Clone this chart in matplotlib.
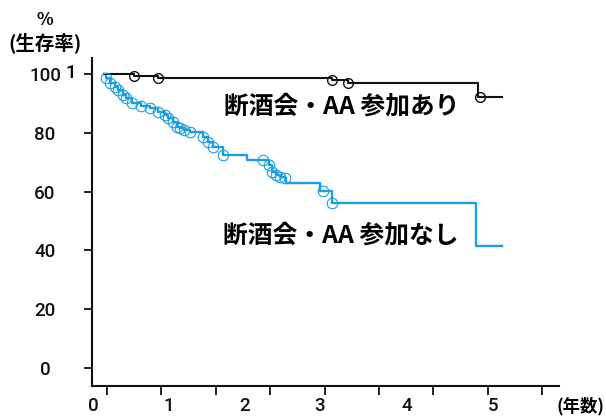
import numpy as np
import matplotlib
matplotlib.use("Agg")
import matplotlib.pyplot as plt

plt.rcParams['font.family'] = ['Noto Sans CJK JP', 'DejaVu Sans']

# Survival curve: with AA / abstinence society participation (black)
black_t = [0.0, 0.386, 0.694, 2.93, 3.14, 4.81, 5.12]
black_s = [100.0, 99.4, 98.6, 97.8, 97.0, 92.3, 92.3]
black_marks = [0.386, 0.694, 2.93, 3.14, 4.83]

# Survival curve: without participation (blue)
blue_t = [0.0, 0.026, 0.077, 0.141, 0.180, 0.244, 0.283, 0.360, 0.476, 0.591,
          0.694, 0.784, 0.823, 0.887, 0.938, 0.977, 1.028, 1.105, 1.272, 1.337,
          1.401, 1.530, 1.838, 2.121, 2.159, 2.211, 2.262, 2.326, 2.339, 2.776,
          2.931, 4.781, 5.116]
blue_s = [100.0, 98.6, 96.9, 95.6, 94.6, 92.9, 91.8, 90.1, 89.1, 88.4,
          87.2, 86.1, 85.0, 83.8, 82.1, 81.5, 81.0, 80.3, 78.6, 76.9,
          75.2, 72.4, 70.7, 69.0, 66.7, 65.6, 64.8, 64.6, 62.9, 60.2,
          56.0, 41.6, 41.6]
blue_marks = [0.026, 0.077, 0.141, 0.180, 0.244, 0.283, 0.360, 0.476, 0.591,
              0.694, 0.784, 0.823, 0.887, 0.938, 0.977, 1.028, 1.105, 1.272,
              1.337, 1.401, 1.530, 2.044, 2.121, 2.159, 2.211, 2.262, 2.326,
              2.815, 2.931]

y_ticks = [0, 20, 40, 60, 80, 100]
x_labels = ['0', '1', '2', '3', '4', '5']

BLUE = '#1a9fe0'
BLACK = '#111111'
NUM_FONT = ['Roboto', 'DejaVu Sans']


def step_value(times, surv, t):
    idx = np.searchsorted(times, t, side='right') - 1
    return np.asarray(surv)[idx]


W, H = 606, 416
fig = plt.figure(figsize=(W / 100, H / 100), dpi=100)
L, R, T, B = 92, 559, 58, 386
ax = fig.add_axes([L / W, (H - B) / H, (R - L) / W, (B - T) / H])

px_per_year = 77.8
x0_px = 104
ax.set_xlim((L - x0_px) / px_per_year, (R - x0_px) / px_per_year)
ax.set_ylim(-6.12, 105.44)

ax.step(blue_t, blue_s, where='post', color=BLUE, lw=1.7, zorder=3)
ax.plot(blue_marks, step_value(blue_t, blue_s, blue_marks), 'o', ms=7.6,
        mfc='none', mec=BLUE, mew=0.8, zorder=4)

ax.step(black_t, black_s, where='post', color=BLACK, lw=1.5, zorder=3)
ax.plot(black_marks, step_value(black_t, black_s, black_marks), 'o', ms=7.0,
        mfc='none', mec=BLACK, mew=1.0, zorder=4)

for side in ['top', 'right']:
    ax.spines[side].set_visible(False)
for side in ['left', 'bottom']:
    ax.spines[side].set_linewidth(1.5)
    ax.spines[side].set_color(BLACK)

# y axis
ax.set_yticks(y_ticks)
ax.set_yticklabels([str(v) for v in y_ticks], ha='center', fontsize=13.5,
                   family=NUM_FONT, weight='medium')
ax.tick_params(axis='y', direction='out', length=5.8, width=1.3, pad=28,
               colors=BLACK)

# x axis: tick marks and number labels sit at different places
tick_px = [107 + 54.4 * k for k in range(9)]
label_px = [93, 169, 244.5, 319.4, 406.4, 493.5]
ax.set_xticks([(p - x0_px) / px_per_year for p in tick_px], minor=True)
ax.set_xticks([(p - x0_px) / px_per_year for p in label_px])
ax.set_xticklabels(x_labels, fontsize=13.5, family=NUM_FONT, weight='medium')
ax.tick_params(axis='x', which='minor', direction='out', length=6.3,
               width=1.3, colors=BLACK)
ax.tick_params(axis='x', which='major', length=0, pad=8, colors=BLACK)

# annotations
def fig_text(x, y, s, **kw):
    fig.text(x / W, 1 - y / H, s, **kw)

fig_text(45, 20, '%', ha='center', va='center', fontsize=12.5, weight='bold')
fig_text(45, 43, '(生存率)', ha='center', va='center', fontsize=14,
         weight='bold')
fig_text(71, 73, '1', ha='center', va='center', fontsize=13.5,
         family=NUM_FONT, weight='medium')
fig_text(557, 406, '(年数)', ha='left', va='center', fontsize=12.5,
         weight='bold')

fig_text(342, 106, '断酒会・AA 参加あり', ha='center', va='center',
         fontsize=17.8, weight='bold')
fig_text(341, 235, '断酒会・AA 参加なし', ha='center', va='center',
         fontsize=17.8, weight='bold')

fig.savefig('out.png', dpi=100)
